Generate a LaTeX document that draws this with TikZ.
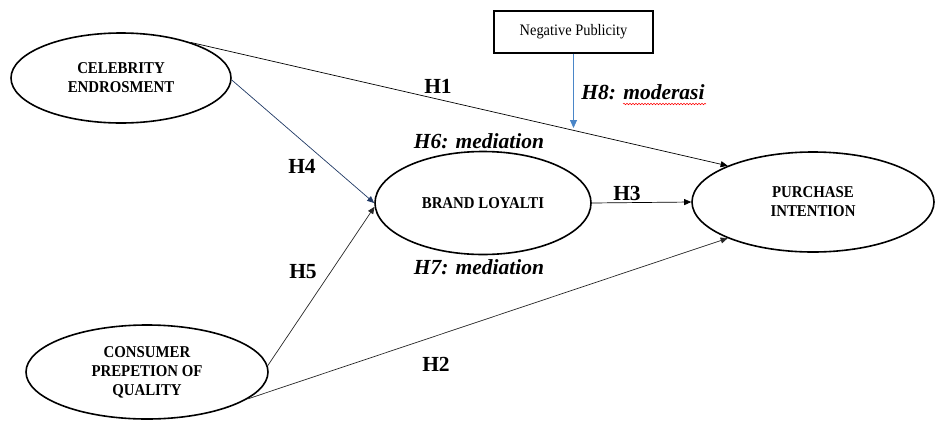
\documentclass[tikz,border=0pt]{standalone}
\usepackage{fontspec}
\setmainfont{Liberation Serif}
\newfontfamily\condfont[FakeStretch=0.9]{Liberation Serif}
\usetikzlibrary{shapes.geometric,arrows.meta,decorations.pathmorphing}
\begin{document}
\begin{tikzpicture}[x=1pt,y=-1pt,
  var/.style={ellipse,draw,line width=1.6pt,inner sep=0pt,align=center,
    font=\condfont\fontsize{16.5}{19}\selectfont\bfseries},
  conn/.style={line width=0.7pt,-{Triangle[length=7pt,width=6pt]}},
  hlab/.style={font=\fontsize{21.5}{24}\selectfont\bfseries},
  hilab/.style={font=\fontsize{21.5}{24}\selectfont\bfseries\itshape}]
\useasboundingbox (0,0) rectangle (935,421);
\node[var,minimum width=220pt,minimum height=90pt] (cel) at (121,78) {CELEBRITY\\ENDROSMENT};
\node[var,minimum width=216pt,minimum height=103pt] (bl) at (483,203) {BRAND LOYALTI};
\node[var,minimum width=242pt,minimum height=100pt] (pur) at (813,202) {PURCHASE\\INTENTION};
\node[var,minimum width=242pt,minimum height=94pt] (con) at (147,372) {CONSUMER\\PREPETION OF\\QUALITY};
\node[draw,line width=1.3pt,minimum width=159pt,minimum height=42pt,inner sep=0pt,
  font=\condfont\fontsize{16}{18}\selectfont] (np) at (573.5,32) {Negative Publicity};
\coordinate (mod) at (573.5,128);
\draw[conn,black] (cel.27) -- (pur.157);
\draw[conn,color={rgb,255:red,31;green,56;blue,100}] (cel.-1) -- (bl.180);
\draw[conn,black!85] (con.3) -- (bl.182);
\draw[conn,black!85] (con.345) -- (pur.203);
\draw[conn,black] (bl.0) -- (pur.180);
\draw[line width=0.8pt,color={rgb,255:red,74;green,134;blue,200},
  -{Triangle[length=8pt,width=7pt]}] (np.south) -- (mod);
\node[hlab] (h1) at (438,86) {H1};
\node[hlab] (h4) at (302,166) {H4};
\node[hlab] (h3) at (627,193) {H3};
\node[hlab] (h5) at (303,272) {H5};
\node[hlab] (h2) at (436,364) {H2};
\node[hilab] (h6) at (479,141) {H6: mediation};
\node[hilab] (h7) at (479,267) {H7: mediation};
\node[hilab] (h8) at (643,92) {H8: moderasi};
\draw[red,line width=0.5pt,decorate,decoration={snake,amplitude=0.8pt,segment length=3pt}]
  (623,104) -- (706,104);
\end{tikzpicture}
\end{document}
